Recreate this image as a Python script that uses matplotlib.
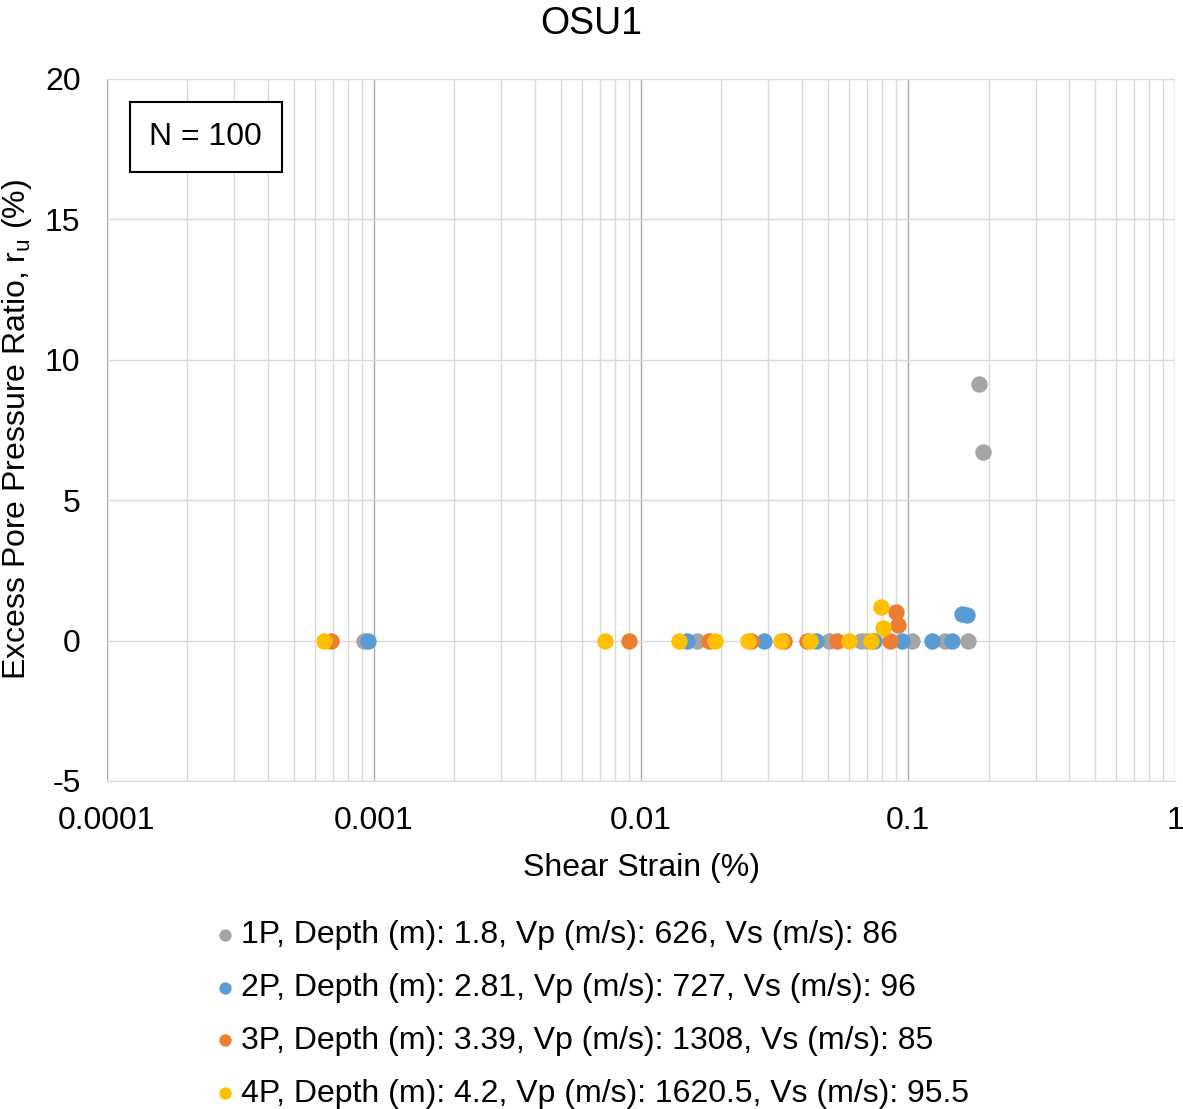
import matplotlib
matplotlib.use("Agg")
import matplotlib.pyplot as plt
from matplotlib.ticker import FixedLocator, FixedFormatter, LogLocator, NullFormatter

plt.rcParams["font.family"] = ["Liberation Sans", "DejaVu Sans"]
plt.rcParams["mathtext.fontset"] = "custom"
plt.rcParams["mathtext.rm"] = "Liberation Sans"
plt.rcParams["mathtext.it"] = "Liberation Sans"
plt.rcParams["axes.unicode_minus"] = False

# -----------------------------------------------------------------------------
# Data
# -----------------------------------------------------------------------------
labels = [
    "1P, Depth (m): 1.8, Vp (m/s): 626, Vs (m/s): 86",
    "2P, Depth (m): 2.81, Vp (m/s): 727, Vs (m/s): 96",
    "3P, Depth (m): 3.39, Vp (m/s): 1308, Vs (m/s): 85",
    "4P, Depth (m): 4.2, Vp (m/s): 1620.5, Vs (m/s): 95.5",
]
colors = ["#A5A5A5", "#5B9BD5", "#ED7D31", "#FFC000"]

strain_1p = [0.000914, 0.0162, 0.0505, 0.0664, 0.070, 0.103, 0.138, 0.168, 0.185, 0.1915]
ru_1p = [0, 0, 0, 0, 0, 0, 0, 0, 9.12, 6.73]

strain_2p = [0.000953, 0.0149, 0.0288, 0.0451, 0.0743, 0.0946, 0.1224, 0.1466, 0.1585, 0.1668]
ru_2p = [0, 0, 0, 0, 0, 0, 0, 0, 0.95, 0.90]

strain_3p = [0.000693, 0.00902, 0.0180, 0.0258, 0.0343, 0.0418, 0.0541, 0.0853, 0.0898, 0.0914]
ru_3p = [0, 0, 0, 0, 0, 0, 0, 0, 1.03, 0.57]

strain_4p = [0.000647, 0.00733, 0.0139, 0.0189, 0.0251, 0.0334, 0.0429, 0.0600, 0.0724, 0.0789, 0.0803]
ru_4p = [0, 0, 0, 0, 0, 0, 0, 0, 0, 1.18, 0.46]

series_x = [strain_1p, strain_2p, strain_3p, strain_4p]
series_y = [ru_1p, ru_2p, ru_3p, ru_4p]

# -----------------------------------------------------------------------------
# Plot
# -----------------------------------------------------------------------------
fig = plt.figure(figsize=(11.83, 11.09), dpi=100)
ax = fig.add_axes([0.0904, 0.2958, 0.9030, 0.6330])

for xs, ys, c, lab in zip(series_x, series_y, colors, labels):
    ax.scatter(xs, ys, s=140, color=c, label=lab, zorder=3, linewidths=0)

ax.set_xscale("log")
ax.set_xlim(0.0001, 1)
ax.set_ylim(-5, 20)
ax.set_yticks([-5, 0, 5, 10, 15, 20])

ax.xaxis.set_major_locator(FixedLocator([0.0001, 0.001, 0.01, 0.1, 1]))
ax.xaxis.set_major_formatter(FixedFormatter(["0.0001", "0.001", "0.01", "0.1", "1"]))
ax.xaxis.set_minor_locator(LogLocator(base=10, subs=range(2, 10)))
ax.xaxis.set_minor_formatter(NullFormatter())

ax.grid(True, which="major", color="#ABABAB", linewidth=1.0, zorder=0)
ax.grid(True, which="minor", axis="x", color="#D9D9D9", linewidth=1.0, zorder=0)
ax.grid(True, which="major", axis="y", color="#D9D9D9", linewidth=1.0, zorder=0)
ax.set_axisbelow(True)

ax.tick_params(which="both", length=0, labelsize=23, colors="#000000")
ax.tick_params(axis="x", pad=18)
ax.tick_params(axis="y", pad=19)
for side in ["top", "right", "left"]:
    ax.spines[side].set_visible(False)
ax.spines["bottom"].set_color("#D9D9D9")

ax.set_xlabel("Shear Strain (%)", fontsize=23, labelpad=12)
ax.set_ylabel("Excess Pore Pressure Ratio, r$_\\mathrm{u}$ (%)", fontsize=23, labelpad=8)
fig.suptitle("OSU1", fontsize=27, y=0.995)

ax.text(0.0925, 0.917, "N = 100", transform=ax.transAxes, fontsize=23,
        ha="center", va="center",
        bbox=dict(boxstyle="square,pad=0.62", facecolor="white", edgecolor="black", linewidth=1.5))

fig.legend(loc="upper left", bbox_to_anchor=(0.1834, 0.170), frameon=False,
           fontsize=23, markerscale=0.75, handlelength=0.5, handletextpad=0.25,
           labelspacing=0.71, borderaxespad=0, borderpad=0)

fig.savefig("out.png", dpi=100)
